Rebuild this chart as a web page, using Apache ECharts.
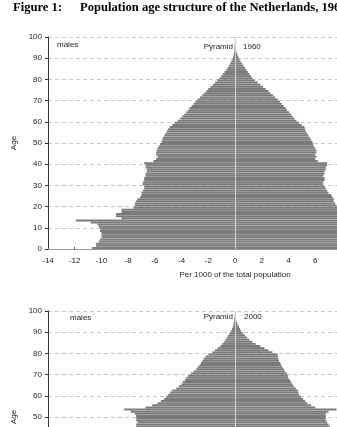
<!DOCTYPE html>
<html>
<head>
<meta charset="utf-8">
<script src="https://cdn.jsdelivr.net/npm/echarts@6/dist/echarts.min.js"></script>
<style>
html, body { margin: 0; padding: 0; background: #fff; }
#chart { width: 337px; height: 427px; }
</style>
</head>
<body>
<div id="chart"></div>
<script>
'use strict';

// ages 0..99, one bar per single year
var ages = [];
for (var a = 0; a < 100; a++) {
    ages.push(String(a));
}

var yTicks = [0, 10, 20, 30, 40, 50, 60, 70, 80, 90, 100];
var xTicks = [-14, -12, -10, -8, -6, -4, -2, 0, 2, 4, 6, 8, 10, 12, 14];

// 1960, per 1000 of total population (males drawn to the left)
var males1960 = [
    10.7, 10.4, 10.4, 10.2, 10.1, 10.0, 10.0, 10.0, 10.1, 10.1,
    10.2, 10.3, 10.8, 11.9, 8.5, 8.9, 8.9, 8.5, 8.5, 7.6,
    7.5, 7.5, 7.4, 7.3, 7.1, 7.0, 7.0, 6.9, 6.8, 6.8,
    6.9, 6.9, 6.8, 6.8, 6.7, 6.7, 6.6, 6.6, 6.7, 6.7,
    6.8, 6.1, 5.9, 5.8, 5.9, 5.9, 5.85, 5.8, 5.7, 5.6,
    5.5, 5.45, 5.4, 5.3, 5.2, 5.1, 5.0, 4.9, 4.7, 4.5,
    4.3, 4.1, 3.95, 3.8, 3.65, 3.5, 3.4, 3.25, 3.1, 2.95,
    2.8, 2.62, 2.45, 2.3, 2.15, 2.0, 1.83, 1.66, 1.5, 1.33,
    1.17, 1.03, 0.9, 0.78, 0.65, 0.55, 0.45, 0.36, 0.28, 0.2,
    0.15, 0.1, 0.08, 0.06, 0.04, 0.03, 0.02, 0.015, 0.01, 0.01
];
var females1960 = [
    10.2, 9.9, 9.9, 9.7, 9.6, 9.5, 9.5, 9.5, 9.6, 9.6,
    9.7, 9.8, 10.3, 11.3, 8.2, 8.4, 8.4, 8.1, 7.9, 7.7,
    7.6, 7.5, 7.4, 7.4, 7.3, 7.2, 7.0, 6.9, 6.8, 6.7,
    6.6, 6.6, 6.7, 6.7, 6.6, 6.7, 6.7, 6.8, 6.8, 6.9,
    6.9, 6.2, 6.0, 6.1, 6.0, 6.1, 6.1, 6.0, 5.9, 5.85,
    5.8, 5.7, 5.6, 5.5, 5.4, 5.3, 5.25, 5.2, 5.0, 4.8,
    4.6, 4.45, 4.3, 4.2, 4.05, 3.9, 3.8, 3.65, 3.5, 3.35,
    3.2, 3.0, 2.85, 2.65, 2.5, 2.3, 2.1, 1.9, 1.7, 1.5,
    1.3, 1.2, 1.08, 0.96, 0.85, 0.75, 0.63, 0.52, 0.42, 0.33,
    0.25, 0.19, 0.14, 0.1, 0.07, 0.05, 0.03, 0.02, 0.015, 0.01
];

// 2000
var males2000 = [
    6.4, 6.4, 6.3, 6.2, 6.3, 6.4, 6.4, 6.4, 6.3, 6.3,
    6.2, 6.1, 6.2, 6.2, 6.2, 6.1, 6.0, 6.0, 6.1, 6.1,
    6.1, 6.1, 6.1, 6.1, 6.1, 6.2, 6.4, 6.6, 6.9, 7.2,
    7.6, 7.8, 8.0, 8.2, 8.4, 8.5, 8.5, 8.4, 8.3, 8.2,
    8.0, 7.8, 7.7, 7.6, 7.5, 7.4, 7.4, 7.3, 7.4, 7.4,
    7.4, 7.5, 7.8, 8.3, 6.7, 6.2, 5.8, 5.55, 5.3, 5.15,
    5.0, 4.85, 4.7, 4.4, 4.2, 4.0, 3.9, 3.75, 3.65, 3.5,
    3.3, 3.1, 2.9, 2.8, 2.65, 2.55, 2.45, 2.35, 2.2, 2.0,
    1.7, 1.5, 1.3, 1.1, 0.95, 0.8, 0.7, 0.6, 0.5, 0.4,
    0.3, 0.22, 0.17, 0.13, 0.1, 0.07, 0.05, 0.03, 0.02, 0.01
];
var females2000 = [
    6.1, 6.1, 6.0, 5.9, 6.0, 6.1, 6.1, 6.1, 6.0, 6.0,
    5.9, 5.8, 5.9, 5.9, 5.9, 5.8, 5.7, 5.7, 5.8, 5.8,
    5.8, 5.8, 5.8, 5.8, 5.9, 6.1, 6.3, 6.5, 6.8, 7.1,
    7.4, 7.6, 7.8, 8.0, 8.1, 8.2, 8.2, 8.1, 8.0, 7.9,
    7.7, 7.5, 7.4, 7.3, 7.2, 7.1, 7.0, 6.9, 6.8, 6.8,
    6.8, 6.8, 7.0, 7.6, 6.0, 5.7, 5.4, 5.25, 5.1, 4.95,
    4.8, 4.75, 4.7, 4.55, 4.4, 4.3, 4.2, 4.1, 4.0, 3.95,
    3.9, 3.75, 3.65, 3.55, 3.45, 3.4, 3.3, 3.25, 3.2, 3.2,
    2.8, 2.5, 2.2, 1.9, 1.55, 1.3, 1.07, 0.9, 0.75, 0.6,
    0.45, 0.38, 0.3, 0.22, 0.15, 0.1, 0.07, 0.05, 0.03, 0.02
];

var barColor = '#7a7a7a';
var labelFont = 'Liberation Sans, Arial, sans-serif';
var titleFont = 'bold 12.6px "Liberation Serif", "Times New Roman", serif';
var smallFont = '8px "Liberation Sans", Arial, sans-serif';

function neg(arr) {
    return arr.map(function(v) { return -v; });
}

function xAxisFor(idx) {
    return {
        gridIndex: idx,
        type: 'value',
        min: -14,
        max: 14,
        interval: 2,
        name: 'Per 1000 of the total population',
        nameLocation: 'middle',
        nameGap: 22,
        nameTextStyle: { fontFamily: labelFont, fontSize: 8, color: '#222' },
        axisLine: { show: true, lineStyle: { color: '#999', width: 1 } },
        axisTick: { show: true, inside: true, length: 2, lineStyle: { color: '#444' } },
        axisLabel: {
            fontFamily: labelFont, fontSize: 8, color: '#222', margin: 8,
            formatter: function(v) { return xTicks.indexOf(v) >= 0 ? String(v) : ''; }
        },
        splitLine: { show: false }
    };
}

function valueYAxis(idx) {
    return {
        gridIndex: idx,
        type: 'value',
        position: 'left',
        min: 0,
        max: 100,
        interval: 10,
        name: 'Age',
        nameLocation: 'middle',
        nameGap: 22,
        nameRotate: 90,
        nameTextStyle: { fontFamily: labelFont, fontSize: 8, color: '#222' },
        axisLine: { show: true, onZero: false, lineStyle: { color: '#333', width: 1 } },
        axisTick: { show: true, length: 3, lineStyle: { color: '#333' } },
        axisLabel: {
            fontFamily: labelFont, fontSize: 8, color: '#222', margin: 6,
            formatter: function(v) { return yTicks.indexOf(v) >= 0 ? String(v) : ''; }
        },
        splitLine: { show: true, lineStyle: { color: '#c8c8c8', type: [4, 3], width: 1 } }
    };
}

function catYAxis(idx) {
    return {
        gridIndex: idx,
        type: 'category',
        data: ages,
        show: false
    };
}

function barSeries(name, x, y, data, withLine) {
    var s = {
        name: name,
        type: 'bar',
        xAxisIndex: x,
        yAxisIndex: y,
        data: data,
        barGap: '-100%',
        barCategoryGap: '6%',
        itemStyle: { color: barColor },
        silent: true,
        animation: false
    };
    if (withLine) {
        s.markLine = {
            silent: true,
            symbol: 'none',
            label: { show: false },
            lineStyle: { color: '#d4d4d4', width: 1, type: 'solid' },
            data: [{ xAxis: 0 }],
            animation: false
        };
    }
    return s;
}

var chart = echarts.init(document.getElementById('chart'), null, { renderer: 'canvas' });

var option = {
    backgroundColor: '#fff',
    animation: false,
    grid: [
        { left: 48, top: 37, width: 374, height: 212, outerBoundsMode: 'none', containLabel: false },
        { left: 48, top: 311, width: 374, height: 212, outerBoundsMode: 'none', containLabel: false }
    ],
    xAxis: [xAxisFor(0), xAxisFor(1)],
    yAxis: [catYAxis(0), valueYAxis(0), catYAxis(1), valueYAxis(1)],
    series: [
        barSeries('males 1960', 0, 0, neg(males1960), false),
        barSeries('females 1960', 0, 0, females1960, true),
        barSeries('males 2000', 1, 2, neg(males2000), false),
        barSeries('females 2000', 1, 2, females2000, true)
    ],
    graphic: [
        { type: 'text', x: 13, y: 1, style: { text: 'Figure 1:', font: titleFont, fill: '#000' } },
        { type: 'text', x: 80, y: 1, style: { text: 'Population age structure of the Netherlands, 1960', font: titleFont, fill: '#000' } },
        { type: 'text', x: 57, y: 41, style: { text: 'males', font: smallFont, fill: '#222' } },
        { type: 'text', x: 233, y: 43, style: { text: 'Pyramid', font: smallFont, fill: '#222', align: 'right' } },
        { type: 'text', x: 243, y: 43, style: { text: '1960', font: smallFont, fill: '#222' } },
        { type: 'text', x: 70, y: 314, style: { text: 'males', font: smallFont, fill: '#222' } },
        { type: 'text', x: 233, y: 313, style: { text: 'Pyramid', font: smallFont, fill: '#222', align: 'right' } },
        { type: 'text', x: 244, y: 313, style: { text: '2000', font: smallFont, fill: '#222' } }
    ]
};

chart.setOption(option);
</script>
</body>
</html>
